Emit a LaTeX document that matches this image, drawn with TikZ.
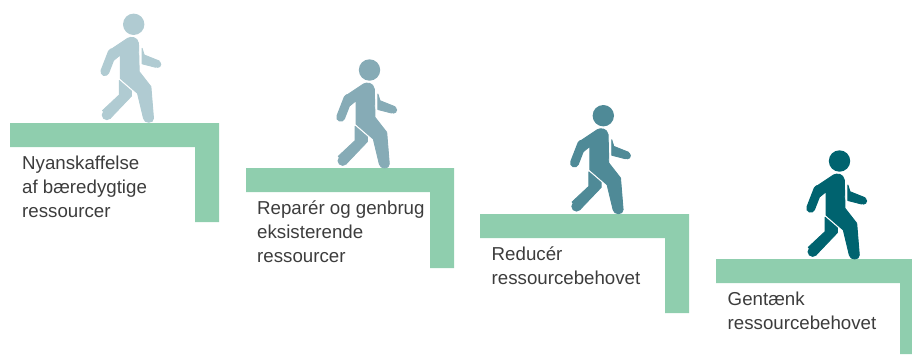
\documentclass[tikz,border=0pt]{standalone}
\usepackage{fontspec}
\setmainfont{Liberation Sans}
\definecolor{stepgreen}{HTML}{8FCEAE}
\definecolor{walkA}{HTML}{B0CBD2}
\definecolor{walkB}{HTML}{86ABB6}
\definecolor{walkC}{HTML}{4F8A97}
\definecolor{walkD}{HTML}{00636F}
\definecolor{labelgray}{HTML}{3C3C3C}
\begin{document}
\begin{tikzpicture}[x=1pt,y=-1pt]
\tikzstyle{stair}=[fill=stepgreen]
\tikzstyle{limb}=[line width=.9pt,line join=round]
\tikzstyle{label}=[anchor=north west,inner sep=0pt,align=left,text=labelgray,font=\fontsize{18.7}{24}\selectfont]
\tikzset{
  walker/.pic={
    \fill (0,0) circle (10.7);
    % arm
    \draw[line width=9pt,line cap=round] (-28.8,47.3) -- (-21.5,28.5);
    % body and front leg
    \filldraw[limb] (-24.5,26.3) -- (-6,14) .. controls (-2.8,12.2) and (3.8,12.5) .. (4.8,19)
      -- (5.5,47.3) -- (17.2,62.3) -- (19.8,94) .. controls (20,99.3) and (10.5,99.3) .. (9.8,94)
      -- (3.8,69) -- (-13.5,54) -- (-13.5,30.7) -- (-20,36) -- cycle;
    % back leg
    \filldraw[limb] (-14.5,56.2) -- (-2.2,66.8) -- (-2.2,71.7) -- (-23.5,94) -- (-31.2,86.3) -- (-14.5,70.7) -- cycle;
    \fill (-26.8,90.7) circle (5.2);
    % back arm
    \filldraw[limb] (8.4,24) -- (10.5,30.7) -- (25.5,36.7) -- (22,43) -- (8.4,39.5) -- cycle;
    \fill (24,40) circle (3.6);
  }
}
\useasboundingbox (0,0) rectangle (912,354);

% stairs
\foreach \name/\sx/\sy/\ex/\ix/\by in {one/10/123/219/195/222,two/246/168/454/430/268,three/480/214/689/665/313,four/716/259/912/900/354}
  \fill[stair] (\sx,\sy) -- (\ex,\sy) -- (\ex,\by) -- (\ix,\by) -- (\ix,\sy+24) -- (\sx,\sy+24) -- cycle;

% walkers
\pic[walkA] at (133.7,24.3) {walker};
\pic[walkB] at (369.5,70) {walker};
\pic[walkC] at (603.3,115.7) {walker};
\pic[walkD] at (839.5,161) {walker};

% labels
\node[label] (nyanskaf) at (22,156) {Nyanskaffelse\\af bæredygtige\\ressourcer};
\node[label] (repare) at (257,201) {Reparér og genbrug\\eksisterende\\ressourcer};
\node[label] (reduce) at (491.5,247) {Reducér\\ressourcebehovet};
\node[label] (gentaenk) at (727.5,292) {Gentænk\\ressourcebehovet};

\end{tikzpicture}
\end{document}
